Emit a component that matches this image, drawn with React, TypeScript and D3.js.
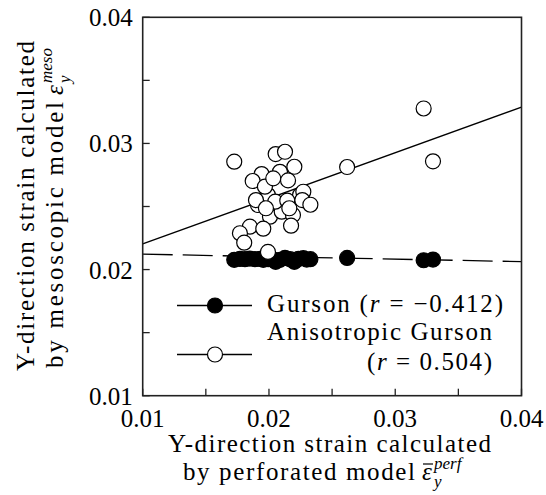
import React from "react";
import * as d3 from "d3";

const W = 546;
const H = 495;
const FONT = '"Liberation Serif", "Times New Roman", Tinos, Georgia, serif';
const TXT = { fontFamily: FONT };

// axis ticks
const tickValues = [0.01, 0.015, 0.02, 0.025, 0.03, 0.035, 0.04];
const tickLabels = ["0.01", "0.02", "0.03", "0.04"];

// Gurson (filled markers)
const gursonX = [0.01725, 0.0177, 0.0181, 0.01849, 0.01889, 0.01929, 0.01955, 0.01994, 0.02034, 0.02053, 0.02087, 0.02127, 0.02167, 0.02201, 0.02233, 0.02272, 0.02299, 0.02328, 0.02619, 0.03225, 0.03299];
const gursonY = [0.02077, 0.02084, 0.02082, 0.02087, 0.02082, 0.02084, 0.02077, 0.02082, 0.02079, 0.02061, 0.02077, 0.02092, 0.02082, 0.02061, 0.02084, 0.0209, 0.02079, 0.02082, 0.02092, 0.02074, 0.02079];

// Anisotropic Gurson (open markers) - partly hidden ones first
const anisoX = [0.02087, 0.02061, 0.02008, 0.02101, 0.02246, 0.01992, 0.01913, 0.0219, 0.01725, 0.03225, 0.03299, 0.02619, 0.02053, 0.02127, 0.02201, 0.01942, 0.01871, 0.01968, 0.02034, 0.02151, 0.02272, 0.01897, 0.0205, 0.02145, 0.02264, 0.02328, 0.01976, 0.02161, 0.01849, 0.01955, 0.02175, 0.0177, 0.01804, 0.01992];
const anisoY = [0.02775, 0.02472, 0.02419, 0.02459, 0.02591, 0.02591, 0.02512, 0.02433, 0.02855, 0.03277, 0.02858, 0.02813, 0.02916, 0.02934, 0.02815, 0.02757, 0.02702, 0.02657, 0.02723, 0.02707, 0.02617, 0.02551, 0.02538, 0.02546, 0.02551, 0.02514, 0.02486, 0.02486, 0.0234, 0.02324, 0.02348, 0.02288, 0.02213, 0.0214];

// regression lines
const fitX = [0.01, 0.04];
const gursonFit = [0.02122, 0.02063];
const anisoFit = [0.02203, 0.03288];

const R = 7.5;

function ScriptLine({ transform, main, mainLen, sub, sup, bar }) {
  // main text, then the epsilon with stacked sub/superscript
  return (
    <g transform={transform}>
      <text style={TXT} fontFamily={FONT} x={0} y={0} textLength={mainLen} lengthAdjust="spacing" fontSize={25}>
        {main}
      </text>
      <text style={TXT} fontFamily={FONT} x={mainLen + 7} y={0} fontSize={25} fontStyle="italic">
        ε
      </text>
      {bar && <line x1={mainLen + 8} x2={mainLen + 18} y1={-16} y2={-16} stroke="#000" strokeWidth={1.2} />}
      <text style={TXT} fontFamily={FONT} x={mainLen + 19} y={7} fontSize={17} fontStyle="italic">
        {sub}
      </text>
      <text style={TXT} fontFamily={FONT} x={mainLen + 19} y={-11} fontSize={17} fontStyle="italic">
        {sup}
      </text>
    </g>
  );
}

export default function App() {
  const margin = { left: 142.7, right: 521.5, top: 17.3, bottom: 395.7 };
  const x = d3.scaleLinear().domain([0.01, 0.04]).range([margin.left, margin.right]);
  const y = d3.scaleLinear().domain([0.01, 0.04]).range([margin.bottom, margin.top]);
  const line = d3
    .line<number>()
    .x((d, i) => x(fitX[i]))
    .y((d) => y(d));

  const tickLen = 7;

  return (
    <svg
      width={W}
      height={H}
      style={{ position: "absolute", left: 0, top: 0, background: "#fff", fontFamily: FONT }}
      fontFamily={FONT}
      fill="#000"
    >
      <style>{`svg text, svg tspan { font-family: ${FONT} !important; }`}</style>
      {/* regression lines */}
      <path d={line(gursonFit)} fill="none" stroke="#000" strokeWidth={1.3} strokeDasharray="30,10" />
      <path d={line(anisoFit)} fill="none" stroke="#000" strokeWidth={1.3} />

      {gursonX.map((v, i) => (
        <circle key={"g" + i} cx={x(v)} cy={y(gursonY[i])} r={R} fill="#000" stroke="#000" strokeWidth={1.2} />
      ))}
      {anisoX.map((v, i) => (
        <circle key={"a" + i} cx={x(v)} cy={y(anisoY[i])} r={R} fill="#fff" stroke="#000" strokeWidth={1.2} />
      ))}

      {/* frame */}
      <rect
        x={margin.left}
        y={margin.top}
        width={margin.right - margin.left}
        height={margin.bottom - margin.top}
        fill="none"
        stroke="#222"
        strokeWidth={1.6}
      />

      {/* ticks */}
      {tickValues.map((t) => (
        <g key={"t" + t}>
          <line x1={x(t)} x2={x(t)} y1={margin.bottom} y2={margin.bottom - tickLen} stroke="#222" strokeWidth={1.3} />
          <line x1={margin.left} x2={margin.left + tickLen} y1={y(t)} y2={y(t)} stroke="#222" strokeWidth={1.3} />
        </g>
      ))}

      {/* tick labels */}
      {tickLabels.map((t) => (
        <g key={"l" + t} fontSize={25}>
          <text style={TXT} fontFamily={FONT} x={x(+t)} y={margin.bottom + 31} textAnchor="middle">
            {t}
          </text>
          <text style={TXT} fontFamily={FONT} x={margin.left - 10} y={y(+t)} dy="0.36em" textAnchor="end">
            {t}
          </text>
        </g>
      ))}

      {/* legend */}
      <g>
        <line x1={177} x2={252} y1={305.5} y2={305.5} stroke="#000" strokeWidth={1.5} />
        <circle cx={215} cy={305.5} r={R} fill="#000" stroke="#000" strokeWidth={1.2} />
        <line x1={177} x2={252} y1={354.5} y2={354.5} stroke="#000" strokeWidth={1.5} />
        <circle cx={215} cy={354.5} r={R} fill="#fff" stroke="#000" strokeWidth={1.2} />
        <text style={TXT} fontFamily={FONT} x={267} y={312} fontSize={25} textLength={236} lengthAdjust="spacing">
          Gurson (<tspan fontStyle="italic">r</tspan> = −0.412)
        </text>
        <text style={TXT} fontFamily={FONT} x={267} y={340} fontSize={25} textLength={225} lengthAdjust="spacing">
          Anisotropic Gurson
        </text>
        <text style={TXT} fontFamily={FONT} x={367} y={370} fontSize={25} textLength={125} lengthAdjust="spacing">
          (<tspan fontStyle="italic">r</tspan> = 0.504)
        </text>
      </g>

      {/* x axis title */}
      <text style={TXT} fontFamily={FONT} x={168} y={452} fontSize={25} textLength={323} lengthAdjust="spacing">
        Y-direction strain calculated
      </text>
      <ScriptLine transform="translate(183,480)" main="by perforated model" mainLen={232} sub="y" sup="perf" bar />

      {/* y axis title */}
      <text
        style={TXT}
        fontFamily={FONT}
        transform="translate(34,371) rotate(-90)"
        x={0}
        y={0}
        fontSize={25}
        textLength={330}
        lengthAdjust="spacing"
      >
        Y-direction strain calculated
      </text>
      <ScriptLine transform="translate(63,368) rotate(-90)" main="by mesoscopic model" mainLen={266} sub="y" sup="meso" />
    </svg>
  );
}
